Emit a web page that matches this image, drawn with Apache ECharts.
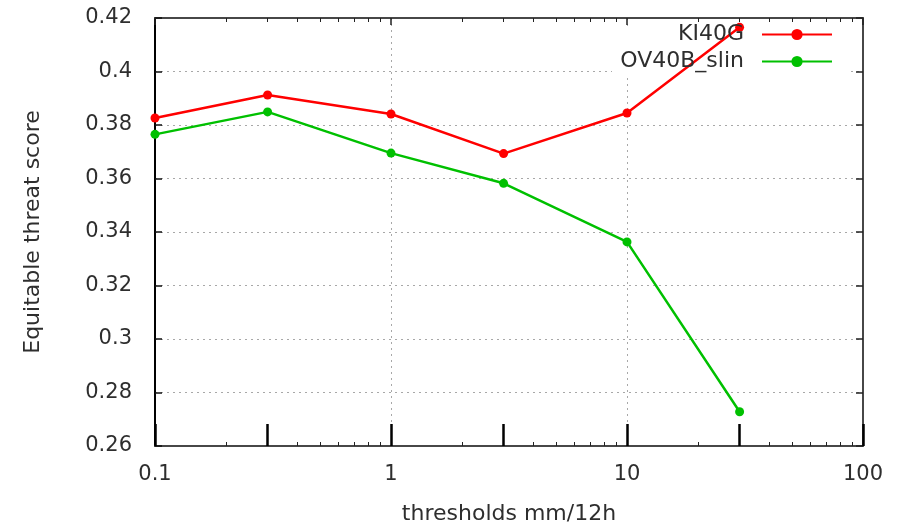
<!DOCTYPE html>
<html>
<head>
<meta charset="utf-8">
<script src="https://cdn.jsdelivr.net/npm/echarts@6/dist/echarts.min.js"></script>
<style>
html,body{margin:0;padding:0;background:#fff;}
#c{width:901px;height:523px;}
</style>
</head>
<body>
<div id="c"></div>
<script>
// ---- data ----
const thresholds = [0.1, 0.3, 1, 3, 10, 30];
const KI40G = [0.3826, 0.3912, 0.3841, 0.3693, 0.3845, 0.4165];
const OV40B_slin = [0.3765, 0.3849, 0.3695, 0.3582, 0.3363, 0.2728];
const seriesNames = ['KI40G', 'OV40B_slin'];
const xTickLabels = [0.1, 1, 10, 100];
const xMinorTicks = [0.2,0.3,0.4,0.5,0.6,0.7,0.8,0.9,2,3,4,5,6,7,8,9,20,30,40,50,60,70,80,90];
const xDataTicks = [0.1, 0.3, 1, 3, 10, 30, 100];
const yMin = 0.26, yMax = 0.42, yStep = 0.02;

const font = 'DejaVu Sans';
const txt = '#2e2e2e';
const frame = '#474747';
const gridLine = {show: true, lineStyle: {color: '#a8a8a8', type: [2, 4], width: 1}};

const chart = echarts.init(document.getElementById('c'), null, {renderer: 'canvas'});

function pairs(xs, ys) { return xs.map((x, i) => [x, ys[i]]); }

const logBase = {type: 'log', logBase: 10, min: 0.1, max: 100, gridIndex: 0};

chart.setOption({
  animation: false,
  backgroundColor: '#fff',
  grid: {left: 155, right: 38, top: 18, bottom: 77, containLabel: false, outerBoundsMode: 'none'},
  graphic: [{
    type: 'rect', z: 1,
    shape: {x: 612, y: 26, width: 235, height: 50},
    style: {fill: '#fff'}
  }],
  legend: {
    data: seriesNames,
    orient: 'vertical',
    align: 'right',
    right: 68,
    top: 21,
    padding: 0,
    itemWidth: 70,
    itemHeight: 14,
    itemGap: 0,
    textStyle: {fontFamily: font, fontSize: 22, color: txt, lineHeight: 27, padding: [0, 13, 0, 0]}
  },
  xAxis: [
    Object.assign({}, logBase, {
      position: 'bottom',
      name: 'thresholds mm/12h',
      nameLocation: 'middle',
      nameGap: 57,
      nameTextStyle: {fontFamily: font, fontSize: 22, color: txt},
      axisLine: {show: true, lineStyle: {color: frame, width: 2}},
      axisTick: {show: true, inside: true, length: 4, customValues: xMinorTicks, lineStyle: {color: '#222', width: 1}},
      axisLabel: {show: true, customValues: xTickLabels, margin: 18, fontFamily: font, fontSize: 21, color: txt},
      splitLine: {show: false}
    }),
    Object.assign({}, logBase, {
      position: 'bottom',
      axisLine: {show: false},
      axisTick: {show: true, inside: true, length: 22, customValues: xDataTicks, lineStyle: {color: '#000', width: 2.5}},
      axisLabel: {show: false},
      splitLine: {show: false}
    }),
    Object.assign({}, logBase, {
      position: 'top',
      axisLine: {show: true, lineStyle: {color: frame, width: 2}},
      axisTick: {show: true, inside: true, length: 4, customValues: xMinorTicks, lineStyle: {color: '#222', width: 1}},
      axisLabel: {show: false},
      splitLine: {show: false}
    }),
    Object.assign({}, logBase, {
      position: 'top',
      axisLine: {show: false},
      axisTick: {show: true, inside: true, length: 7, customValues: xTickLabels, lineStyle: {color: '#222', width: 1.5}},
      axisLabel: {show: false},
      splitLine: gridLine
    })
  ],
  yAxis: [
    {
      type: 'value', min: yMin, max: yMax, interval: yStep, position: 'left',
      name: 'Equitable threat score',
      nameLocation: 'middle',
      nameRotate: 90,
      nameGap: 111,
      nameTextStyle: {fontFamily: font, fontSize: 22, color: txt},
      axisLine: {show: true, lineStyle: {color: '#000', width: 2}},
      axisTick: {show: true, inside: true, length: 7, lineStyle: {color: '#111', width: 1.5}},
      axisLabel: {show: true, margin: 23, fontFamily: font, fontSize: 21, color: txt},
      splitLine: gridLine
    },
    {
      type: 'value', min: yMin, max: yMax, interval: yStep, position: 'right',
      axisLine: {show: true, lineStyle: {color: frame, width: 2}},
      axisTick: {show: true, inside: true, length: 7, lineStyle: {color: '#222', width: 1.5}},
      axisLabel: {show: false},
      splitLine: {show: false}
    }
  ],
  series: [
    {
      name: seriesNames[0], type: 'line', xAxisIndex: 0, yAxisIndex: 0,
      data: pairs(thresholds, KI40G),
      symbol: 'circle', symbolSize: 9, showSymbol: true,
      lineStyle: {color: '#ff0000', width: 2.5}, itemStyle: {color: '#ff0000'},
      z: 3
    },
    {
      name: seriesNames[1], type: 'line', xAxisIndex: 0, yAxisIndex: 0,
      data: pairs(thresholds, OV40B_slin),
      symbol: 'circle', symbolSize: 9, showSymbol: true,
      lineStyle: {color: '#00c000', width: 2.5}, itemStyle: {color: '#00c000'},
      z: 3
    }
  ]
});
</script>
</body>
</html>
